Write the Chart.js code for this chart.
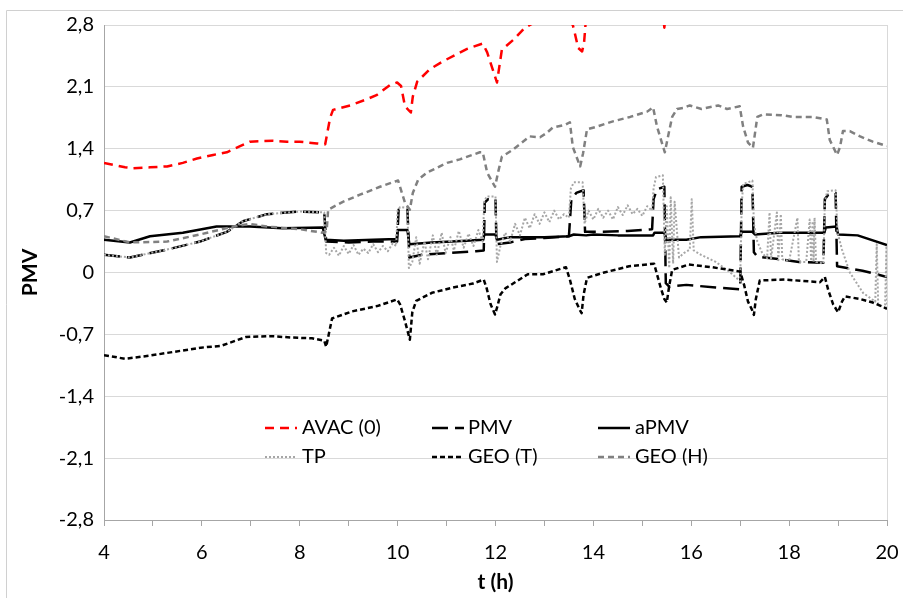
<!DOCTYPE html>
<html><head><meta charset="utf-8">
<script src="https://cdn.jsdelivr.net/npm/chart.js@4/dist/chart.umd.min.js"></script>
<style>html,body{margin:0;padding:0;background:#fff}#wrap{width:903px;height:598px;position:relative}</style>
</head><body><div id="wrap"><canvas id="c" width="903" height="598"></canvas></div>
<script>
const seriesNames = ['AVAC (0)', 'PMV', 'aPMV', 'TP', 'GEO (T)', 'GEO (H)'];

const avacT = [4.0,4.43,4.59,4.94,5.29,5.61,5.90,6.23,6.51,6.78,6.98,7.45,7.74,8.0,8.35,8.52,8.62,8.68,9.03,9.37,9.58,9.84,9.99,10.07,10.15,10.27,10.31,10.40,10.66,10.93,11.42,11.74,11.83,12.03,12.13,12.36,12.60,12.9,13.3,13.58,13.62,13.69,13.77,13.81,13.86,14.3,14.9,15.38,15.45,15.52,16.2,17.0,18.0,19.0,20.0];
const avacV = [1.24,1.19,1.18,1.19,1.20,1.24,1.29,1.33,1.36,1.43,1.48,1.49,1.48,1.48,1.46,1.45,1.75,1.84,1.89,1.96,2.01,2.12,2.15,2.11,1.88,1.81,1.99,2.16,2.30,2.39,2.53,2.59,2.49,2.15,2.52,2.63,2.77,2.86,2.93,2.80,2.71,2.54,2.50,2.60,2.95,3.02,3.10,3.15,2.77,3.15,3.25,3.30,3.35,3.40,3.40];

const pmvT = [4.0,4.53,5.29,5.96,6.51,6.84,7.33,8.0,8.5,8.54,9.0,9.5,9.99,10.02,10.2,10.24,10.5,11.0,11.6,11.76,11.78,11.85,12.0,12.02,12.3,12.6,13.0,13.5,13.55,13.65,13.8,13.83,14.2,14.7,15.2,15.23,15.3,15.45,15.48,15.55,15.9,16.5,17.0,17.03,17.15,17.25,17.28,17.35,17.8,18.2,18.7,18.73,18.8,18.95,18.98,19.5,20.0];
const pmvV = [0.20,0.17,0.26,0.35,0.46,0.58,0.66,0.69,0.68,0.35,0.34,0.35,0.35,0.71,0.71,0.17,0.20,0.22,0.24,0.25,0.79,0.83,0.83,0.32,0.34,0.38,0.39,0.41,0.83,0.90,0.93,0.46,0.46,0.47,0.49,0.83,0.94,0.97,-0.12,-0.16,-0.14,-0.17,-0.19,0.97,0.99,0.97,0.23,0.18,0.15,0.12,0.11,0.83,0.88,0.90,0.07,0.02,-0.05];

const apmvT = [4.0,4.53,4.94,5.61,6.30,6.98,7.65,8.47,8.53,8.9,9.5,9.98,10.0,10.2,10.24,10.7,11.4,11.75,11.77,12.0,12.03,12.3,13.0,13.5,13.6,13.85,14.0,14.5,15.22,15.25,15.45,15.5,15.9,16.2,17.0,17.03,17.25,17.3,17.8,18.72,18.75,18.97,19.0,19.4,20.0];
const apmvV = [0.37,0.34,0.41,0.45,0.52,0.52,0.50,0.51,0.37,0.36,0.37,0.38,0.48,0.48,0.32,0.34,0.36,0.37,0.43,0.43,0.37,0.40,0.40,0.41,0.43,0.42,0.43,0.42,0.42,0.45,0.45,0.37,0.37,0.40,0.41,0.46,0.46,0.43,0.45,0.45,0.51,0.52,0.43,0.42,0.31];

const tpT = [4.0,4.53,5.29,5.96,6.51,6.84,7.33,8.0,8.5,8.54,8.6,8.7,8.8,8.9,9.0,9.1,9.2,9.3,9.4,9.5,9.6,9.7,9.8,9.9,9.97,10.0,10.05,10.2,10.23,10.3,10.38,10.45,10.55,10.62,10.72,10.8,10.9,10.98,11.08,11.15,11.25,11.35,11.45,11.55,11.65,11.74,11.77,11.82,12.0,12.03,12.1,12.2,12.3,12.4,12.5,12.6,12.7,12.8,12.9,13.0,13.1,13.2,13.3,13.4,13.5,13.54,13.6,13.78,13.82,13.9,14.0,14.1,14.2,14.3,14.4,14.5,14.6,14.7,14.8,14.9,15.0,15.1,15.2,15.23,15.28,15.42,15.46,15.5,15.55,15.58,15.63,15.66,15.75,15.85,15.97,16.01,16.05,16.2,16.5,16.8,17.0,17.03,17.06,17.25,17.28,17.35,17.45,17.55,17.6,17.63,17.75,17.78,17.83,17.86,18.0,18.17,18.2,18.35,18.42,18.45,18.48,18.5,18.52,18.55,18.7,18.73,18.78,18.95,18.99,19.08,19.24,19.51,19.76,19.79,19.82,19.96,19.99,20.0];
const tpV = [0.20,0.17,0.26,0.35,0.46,0.58,0.66,0.69,0.68,0.22,0.20,0.28,0.19,0.30,0.21,0.31,0.20,0.27,0.22,0.32,0.23,0.30,0.24,0.33,0.30,0.70,0.74,0.73,0.05,0.12,0.40,0.10,0.35,0.15,0.42,0.20,0.45,0.22,0.40,0.25,0.47,0.28,0.44,0.30,0.48,0.35,0.80,0.86,0.86,0.12,0.30,0.45,0.35,0.55,0.42,0.62,0.50,0.66,0.55,0.68,0.57,0.70,0.60,0.66,0.62,0.95,1.02,1.02,0.55,0.70,0.60,0.72,0.62,0.70,0.60,0.74,0.65,0.76,0.66,0.72,0.64,0.75,0.70,0.95,1.08,1.10,0.20,0.75,0.05,0.85,0.10,0.80,0.17,0.22,0.26,0.83,0.25,0.20,0.12,0.0,-0.10,0.75,1.0,1.04,0.55,0.35,0.22,0.16,0.68,0.15,0.68,0.14,0.66,0.15,0.13,0.62,0.12,0.12,0.60,0.13,0.58,0.12,0.62,0.12,0.10,0.80,0.92,0.93,0.45,0.26,0.0,-0.23,-0.33,0.32,-0.36,-0.40,0.30,-0.42];

const geoTT = [4.0,4.43,4.94,5.98,6.39,6.90,7.41,7.82,8.25,8.50,8.54,8.66,9.07,9.58,9.99,10.05,10.15,10.25,10.30,10.38,10.70,11.13,11.54,11.76,11.82,11.90,11.99,12.04,12.10,12.20,12.66,12.97,13.44,13.52,13.62,13.72,13.76,13.80,13.87,14.22,14.73,15.24,15.30,15.38,15.45,15.50,15.55,15.61,15.95,16.42,17.00,17.08,17.16,17.24,17.28,17.32,17.40,17.91,18.63,18.73,18.80,18.90,19.00,19.08,19.14,19.45,19.71,20.0];
const geoTV = [-0.935,-0.976,-0.94,-0.85,-0.83,-0.73,-0.72,-0.735,-0.745,-0.77,-0.84,-0.52,-0.44,-0.38,-0.305,-0.36,-0.55,-0.76,-0.45,-0.32,-0.23,-0.17,-0.125,-0.08,-0.18,-0.36,-0.475,-0.38,-0.25,-0.18,-0.02,-0.02,0.06,-0.08,-0.30,-0.42,-0.46,-0.25,-0.06,0.0,0.07,0.10,-0.02,-0.18,-0.30,-0.34,-0.15,0.03,0.09,0.06,0.01,-0.14,-0.33,-0.42,-0.48,-0.30,-0.09,-0.08,-0.11,-0.05,-0.20,-0.36,-0.45,-0.33,-0.27,-0.30,-0.34,-0.41];

const geoHT = [4.0,4.53,5.29,5.96,6.64,6.98,7.33,8.0,8.47,8.55,8.58,8.88,9.23,9.64,9.95,10.01,10.15,10.25,10.31,10.42,10.60,11.01,11.27,11.68,11.74,11.83,11.99,12.06,12.13,12.36,12.70,12.91,13.05,13.17,13.42,13.52,13.58,13.73,13.79,13.87,14.07,14.40,14.75,15.10,15.22,15.30,15.46,15.53,15.61,15.71,15.83,15.97,16.21,16.55,16.73,16.99,17.06,17.16,17.26,17.35,17.47,17.84,18.08,18.49,18.77,18.83,18.98,19.04,19.10,19.24,19.45,19.71,20.0];
const geoHV = [0.41,0.34,0.35,0.43,0.52,0.55,0.52,0.49,0.45,0.47,0.71,0.80,0.88,0.97,1.03,1.04,0.79,0.71,0.90,1.05,1.13,1.24,1.28,1.36,1.36,1.13,0.97,1.15,1.31,1.39,1.54,1.53,1.58,1.64,1.67,1.70,1.42,1.20,1.35,1.62,1.65,1.71,1.76,1.82,1.87,1.65,1.36,1.55,1.76,1.85,1.86,1.89,1.85,1.89,1.85,1.88,1.65,1.47,1.41,1.76,1.79,1.78,1.76,1.76,1.73,1.50,1.33,1.42,1.60,1.60,1.54,1.48,1.43];

const xTickValues = [4,5,6,7,8,9,10,11,12,13,14,15,16,17,18,19,20];
const xTickLabels = ['4','','6','','8','','10','','12','','14','','16','','18','','20'];
const yTickValues = [-2.8,-2.1,-1.4,-0.7,0,0.7,1.4,2.1,2.8];
const yTickLabels = ['-2,8','-2,1','-1,4','-0,7','0','0,7','1,4','2,1','2,8'];

const FONT = 'Lato, "Open Sans", sans-serif';
const pts = (t, v) => t.map((x, i) => ({x: x, y: v[i]}));

const styles = [
  {color:'#ff0000', width:2.5, dash:[9,6]},
  {color:'#000000', width:2.5, dash:[16,7]},
  {color:'#000000', width:2.5, dash:[]},
  {color:'#a6a6a6', width:2, dash:[2,2]},
  {color:'#000000', width:2.5, dash:[5,3]},
  {color:'#808080', width:2.5, dash:[6,4]}
];
const dataSets = [pts(avacT,avacV), pts(pmvT,pmvV), pts(apmvT,apmvV), pts(tpT,tpV), pts(geoTT,geoTV), pts(geoHT,geoHV)];

const datasets = dataSets.map((d, i) => ({
  label: seriesNames[i], data: d,
  borderColor: styles[i].color, borderWidth: styles[i].width, borderDash: styles[i].dash,
  borderJoinStyle: 'round',
  pointRadius: 0, tension: 0, fill: false, order: 5 - i
}));

const framePlugin = {
  id: 'frame',
  beforeDraw(chart) {
    const ctx = chart.ctx;
    ctx.save();
    ctx.strokeStyle = '#d0d0d0'; ctx.lineWidth = 1;
    ctx.beginPath();
    ctx.moveTo(6.5, 598); ctx.lineTo(6.5, 10.5); ctx.lineTo(903, 10.5);
    ctx.stroke();
    ctx.restore();
  }
};

const legendPlugin = {
  id: 'customLegend',
  afterDraw(chart) {
    const ctx = chart.ctx;
    const colX = [265, 432, 598];
    const textX = [302, 468, 635];
    const rowY = [428, 457];
    ctx.save();
    ctx.font = '20px ' + FONT;
    ctx.textBaseline = 'middle';
    ctx.fillStyle = '#000';
    chart.data.datasets.forEach((ds, i) => {
      const c = i % 3, r = Math.floor(i / 3);
      const y = rowY[r];
      ctx.strokeStyle = ds.borderColor;
      ctx.lineWidth = ds.borderWidth;
      ctx.setLineDash(ds.borderDash);
      ctx.beginPath();
      ctx.moveTo(colX[c], y); ctx.lineTo(colX[c] + 32, y);
      ctx.stroke();
      ctx.setLineDash([]);
      ctx.fillText(ds.label, textX[c], y);
    });
    ctx.restore();
  }
};

new Chart(document.getElementById('c'), {
  type: 'line',
  data: { datasets },
  options: {
    responsive: false, animation: false,
    layout: { padding: { left: 0, right: 16, top: 25, bottom: 0 } },
    plugins: { legend: { display: false }, tooltip: { enabled: false } },
    scales: {
      x: {
        type: 'linear', min: 4, max: 20,
        afterBuildTicks: s => { s.ticks = xTickValues.map(v => ({value: v})); },
        afterFit: s => { s.height = 78; s.paddingLeft = 0; s.paddingRight = 0; },
        ticks: { autoSkip: false, maxRotation: 0, padding: 15, color: '#000', font: {family: FONT, size: 20},
                 callback: (v, i) => xTickLabels[i] },
        grid: { drawOnChartArea: true, color: c => (c.tick && c.tick.value === 20) ? '#d9d9d9' : 'rgba(0,0,0,0)',
                tickColor: '#a6a6a6', tickLength: 6, lineWidth: 1 },
        border: { display: true, color: '#a6a6a6', width: 1 },
        title: { display: true, text: 't (h)', color: '#000', font: {family: FONT, size: 21, weight: 'bold'}, padding: {top: 0, bottom: 3} }
      },
      y: {
        type: 'linear', min: -2.8, max: 2.8,
        afterBuildTicks: s => { s.ticks = yTickValues.map(v => ({value: v})); },
        afterFit: s => { s.width = 104; s.paddingTop = 0; s.paddingBottom = 0; },
        ticks: { padding: 10, color: '#000', font: {family: FONT, size: 20}, callback: (v, i) => yTickLabels[i] },
        grid: { color: '#d9d9d9', drawTicks: false, lineWidth: 1 },
        border: { display: true, color: '#a6a6a6', width: 1 },
        title: { display: true, text: 'PMV', color: '#000', font: {family: FONT, size: 21, weight: 'bold'}, padding: {top: 18, bottom: 0} }
      }
    }
  },
  plugins: [framePlugin, legendPlugin]
});
</script></body></html>
